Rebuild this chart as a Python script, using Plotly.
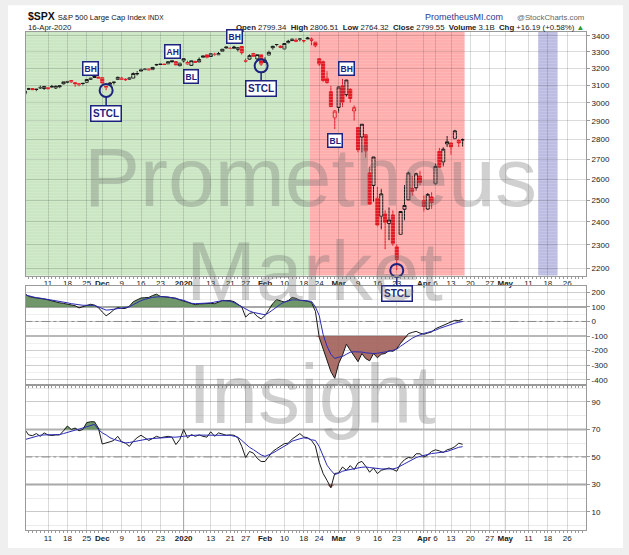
import math
import pandas as pd
import plotly.graph_objects as go

# ---- trading calendar (NYSE holidays removed) ----
holidays = ["2019-11-28", "2019-12-25", "2020-01-01", "2020-01-20",
            "2020-02-17", "2020-04-10", "2020-05-25"]
cal = pd.bdate_range("2019-11-01", "2020-06-05")
cal = cal[~cal.isin(pd.to_datetime(holidays))]
day_idx = {d.strftime("%Y-%m-%d"): i for i, d in enumerate(cal)}

# ---- $SPX daily OHLC, 1-Nov-2019 .. 16-Apr-2020 ----
close_before = 3037.56
opens = [3050.72, 3078.96, 3080.80, 3075.10, 3087.02, 3081.25, 3080.33, 3089.28, 3084.18, 3090.75,
         3107.92, 3117.91, 3127.45, 3114.66, 3108.49, 3111.41, 3117.44, 3134.85, 3145.49, 3147.18,
         3143.85, 3087.41, 3103.50, 3119.21, 3134.62, 3141.86, 3135.36, 3135.75, 3141.23, 3166.65,
         3183.63, 3195.40, 3195.21, 3192.32, 3223.33, 3226.05, 3225.45, 3227.20, 3247.23, 3240.09,
         3215.18,
         3244.67, 3226.36, 3217.55, 3241.86, 3238.59, 3266.03, 3281.81, 3271.13, 3285.35, 3282.27,
         3302.97, 3323.66, 3321.03, 3330.02, 3315.77, 3333.10, 3247.16, 3255.35, 3289.46, 3256.45,
         3282.33,
         3235.66, 3280.61, 3324.91, 3344.92, 3335.54, 3318.28, 3365.87, 3370.50, 3365.90, 3378.08,
         3369.04, 3380.39, 3380.45, 3360.50, 3257.61, 3238.94, 3139.90, 3062.54, 2916.90,
         2974.28, 3096.46, 3045.75, 3075.70, 2954.20, 2863.89, 2813.48, 2825.60, 2630.86, 2569.99,
         2508.59, 2425.66, 2436.50, 2393.48, 2431.94, 2290.71, 2344.44, 2457.77, 2501.29, 2555.87,
         2558.98, 2614.69,
         2498.08, 2458.54, 2514.92, 2578.28, 2738.65, 2685.00, 2776.99, 2782.46, 2805.10, 2795.64,
         2799.34]
highs = [3066.95, 3085.20, 3083.95, 3078.34, 3097.77, 3093.09, 3088.33, 3102.61, 3098.06, 3098.20,
         3120.46, 3124.17, 3127.64, 3118.97, 3110.11, 3112.87, 3133.83, 3142.69, 3154.26, 3150.30,
         3144.31, 3094.97, 3119.38, 3119.45, 3150.60, 3148.87, 3142.12, 3143.98, 3176.28, 3182.68,
         3197.71, 3198.22, 3198.48, 3205.48, 3225.65, 3227.78, 3226.43, 3240.08, 3247.93, 3240.92,
         3231.72,
         3258.14, 3246.15, 3246.84, 3244.91, 3267.07, 3275.58, 3282.99, 3288.13, 3294.25, 3298.66,
         3317.11, 3329.88, 3329.79, 3337.77, 3326.88, 3333.18, 3258.85, 3285.78, 3293.47, 3285.91,
         3282.33,
         3268.44, 3306.92, 3337.58, 3347.96, 3341.42, 3352.26, 3375.63, 3381.47, 3385.09, 3380.69,
         3375.01, 3393.52, 3389.15, 3360.76, 3259.81, 3246.99, 3182.51, 3097.07, 2959.72,
         3090.96, 3136.72, 3130.97, 3083.04, 2985.93, 2863.89, 2882.59, 2825.60, 2660.95, 2711.33,
         2562.98, 2553.93, 2453.57, 2466.97, 2453.01, 2300.73, 2449.71, 2571.42, 2637.01, 2615.91,
         2631.80, 2641.39,
         2522.75, 2533.22, 2538.18, 2676.85, 2756.89, 2760.75, 2818.57, 2782.46, 2851.85, 2801.88,
         2806.51]
lows = [3050.72, 3074.87, 3072.15, 3065.89, 3080.23, 3073.58, 3075.82, 3084.73, 3078.80, 3083.26,
        3104.60, 3112.06, 3113.47, 3091.41, 3094.55, 3099.26, 3117.44, 3131.00, 3143.41, 3139.34,
        3110.78, 3070.33, 3102.53, 3103.76, 3134.62, 3135.46, 3126.09, 3133.21, 3138.47, 3156.51,
        3183.63, 3191.03, 3191.14, 3192.32, 3216.03, 3222.30, 3220.51, 3227.20, 3234.37, 3216.57,
        3212.03,
        3235.53, 3222.34, 3214.64, 3232.43, 3236.67, 3263.67, 3260.86, 3268.43, 3277.19, 3280.69,
        3302.82, 3318.86, 3316.61, 3320.04, 3301.87, 3281.53, 3234.50, 3253.22, 3271.89, 3242.80,
        3214.68,
        3235.66, 3280.61, 3313.75, 3334.39, 3322.12, 3317.77, 3352.72, 3369.72, 3360.52, 3366.15,
        3355.61, 3378.83, 3341.02, 3328.45, 3214.65, 3118.77, 3108.99, 2977.39, 2855.84,
        2945.19, 2976.63, 3034.38, 2999.83, 2901.54, 2734.43, 2734.00, 2707.22, 2478.86, 2492.37,
        2380.94, 2367.04, 2280.52, 2319.78, 2295.56, 2191.86, 2344.44, 2407.53, 2500.72, 2520.02,
        2545.28, 2571.15,
        2447.49, 2455.79, 2459.96, 2574.57, 2657.67, 2663.30, 2762.36, 2721.17, 2805.10, 2761.54,
        2764.32]
closes = [3066.91, 3078.27, 3074.62, 3076.78, 3085.18, 3093.08, 3087.01, 3091.84, 3094.04, 3096.63,
          3120.46, 3122.03, 3120.18, 3108.46, 3103.54, 3110.29, 3133.64, 3140.52, 3153.63, 3140.98,
          3113.87, 3093.20, 3112.76, 3117.43, 3145.91, 3135.96, 3132.52, 3141.63, 3168.57, 3168.80,
          3191.45, 3192.52, 3191.14, 3205.37, 3221.22, 3224.01, 3223.38, 3239.91, 3240.02, 3221.29,
          3230.78,
          3257.85, 3234.85, 3246.28, 3237.18, 3253.05, 3274.70, 3265.35, 3288.13, 3283.15, 3289.29,
          3316.81, 3329.62, 3320.79, 3321.75, 3325.54, 3295.47, 3243.63, 3276.24, 3273.40, 3283.66,
          3225.52,
          3248.92, 3297.59, 3334.69, 3345.78, 3327.71, 3352.09, 3357.75, 3379.45, 3373.94, 3380.16,
          3370.29, 3386.15, 3373.23, 3337.75, 3225.89, 3128.21, 3116.39, 2978.76, 2954.22,
          3090.23, 3003.37, 3130.12, 3023.94, 2972.37, 2746.56, 2882.23, 2741.38, 2480.64, 2711.02,
          2386.13, 2529.19, 2398.10, 2409.39, 2304.92, 2237.40, 2447.33, 2475.56, 2630.07, 2541.47,
          2626.65, 2584.59,
          2470.50, 2526.90, 2488.65, 2663.68, 2659.41, 2749.98, 2789.82, 2761.63, 2846.06, 2783.36,
          2799.55]

# ---- middle panel: CCI and its signal line ----
cci = [191, 172, 165, 162, 160, 154, 148, 140, 133, 128,
       124, 120, 115, 108, 93, 100, 110, 118, 112, 95,
       65, 39, 57, 80, 96, 89, 89, 105, 135, 150,
       161, 163, 165, 178, 187, 172, 168, 165, 163, 160,
       148, 140, 128, 120, 115, 120, 122, 126, 124, 122,
       135, 143, 143, 143, 136, 115, 100, 30, 55, 61,
       35, 17, 40, 80, 122, 150, 140, 133, 143, 165,
       158, 145, 143, 140, 130, 70, -110, -186, -254, -344,
       -390, -290, -231, -156, -197, -240, -276, -220, -255, -270,
       -220, -249, -225, -220, -200, -205, -186, -150, -120, -84,
       -75, -68, -80, -88, -80, -72, -50, -38, -28, -16,
       -5, 8, 6, 14]
cci_sig = [183, 175, 168, 163, 160, 156, 152, 148, 143, 138,
           133, 128, 122, 118, 113, 111, 111, 111, 110, 100,
           88, 78, 80, 84, 88, 90, 95, 100, 115, 130,
           143, 152, 160, 165, 168, 170, 170, 168, 163, 158,
           154, 145, 135, 125, 122, 122, 124, 126, 128, 132,
           138, 143, 141, 139, 130, 115, 100, 85, 72, 62,
           57, 48, 46, 60, 80, 100, 118, 133, 140, 148,
           148, 146, 143, 142, 138, 100, 40, -90, -170, -225,
           -254, -245, -240, -225, -211, -208, -207, -210, -215, -218,
           -220, -218, -215, -211, -205, -198, -190, -170, -150, -130,
           -115, -102, -90, -82, -75, -70, -60, -48, -38, -30,
           -20, -12, -6, 0]

# ---- bottom panel: RSI and its signal line ----
rsi = [70, 66, 65.5, 67, 65, 67.5, 66, 65.6, 66, 66,
       69, 72.5, 70, 71, 69, 70, 75, 75.6, 75.6, 71,
       59.4, 60, 61, 62, 65, 61, 60, 57.7, 61.4, 64,
       65.8, 63.9, 62, 63.4, 65, 64, 64.5, 65, 64.4, 59,
       62.6, 70, 63.9, 66.3, 65, 66, 65, 64.4, 68.3, 65,
       67.5, 66.8, 65.8, 66, 65.8, 63.9, 57.7, 49.6, 54, 52.8,
       49, 46.7, 46.7, 50.4, 54, 56, 58, 59.7, 60, 63,
       65, 67, 64.5, 64, 62, 58, 46, 38, 33, 27.6,
       38, 38.4, 42.7, 40.3, 43.7, 40.8, 45.6, 46.8, 43.2, 38.9,
       42, 37.9, 40.3, 41, 42, 41, 39.6, 45, 48, 49.6,
       49.2, 52.3, 52.3, 49.9, 51.5, 54, 55.2, 54.4, 53.2, 55.2,
       56, 57.5, 60, 59.2]
rsi_sig = [62.6, 63.5, 64.5, 65.3, 65.8, 66, 66, 66.1, 66.2, 66.3,
           67, 68, 68.8, 69.5, 70.2, 71, 72, 73, 73.7, 70,
           67.5, 66, 64, 62.8, 62, 61, 60.2, 60.5, 61, 62,
           62.5, 62.8, 63.2, 63.4, 63.7, 64, 64.3, 64.4, 64.4, 64.4,
           64.5, 65, 65.4, 65.8, 65.8, 65.9, 65.8, 65.7, 65.8, 65.9,
           65.8, 65.8, 65.7, 65.8, 65.3, 64.4, 62, 59.5, 57, 55.3,
           53.5, 51.5, 50.4, 51.5, 52.8, 54.5, 56, 57.7, 59.5, 61.5,
           62.6, 63.2, 63.9, 63.5, 62.5, 62, 57.5, 50, 44, 40.3,
           37.2, 38.2, 39.6, 40.3, 41, 41.5, 42, 42.5, 42.7, 42.3,
           41.8, 41.3, 41.3, 41.3, 41.3, 41.3, 42, 43.5, 45, 46.8,
           48, 49.5, 50.4, 51.2, 52, 52.5, 52.8, 53.2, 53.5, 54,
           55, 56.3, 57, 57.5]

# ---- signals ----
sig_text = ["BH", "AH", "BL", "BH", "AH", "BH", "BL"]
sig_dates = ["2019-11-26", "2019-12-27", "2020-01-06", "2020-01-22",
             "2020-02-19", "2020-03-04", "2020-02-28"]
sig_price = [3200, 3301, 3151, 3394, 3451, 3198, 2796]
stcl_dates = ["2019-12-03", "2020-01-31", "2020-03-23"]

# ---- background bands ----
band_start = ["2019-11-01", "2020-02-20", "2020-05-14"]
band_end = ["2020-02-19", "2020-04-16", "2020-05-20"]
band_fill = ["#c8e5c1", "#ffadad", "#bcbce2"]
band_stripe = ["rgba(235,248,232,0.55)", "rgba(255,205,205,0.5)", "rgba(225,225,245,0.45)"]

# ---- x ticks ----
tick_dates = ["2019-11-11", "2019-11-18", "2019-11-25", "2019-12-02", "2019-12-09", "2019-12-16",
              "2019-12-23", "2020-01-02", "2020-01-13", "2020-01-21", "2020-01-27", "2020-02-03",
              "2020-02-10", "2020-02-18", "2020-02-24", "2020-03-02", "2020-03-09", "2020-03-16",
              "2020-03-23", "2020-04-01", "2020-04-06", "2020-04-13", "2020-04-20", "2020-04-27",
              "2020-05-01", "2020-05-11", "2020-05-18", "2020-05-26"]
tick_text = ["11", "18", "25", "<b>Dec</b>", "9", "16", "23", "<b>2020</b>", "13", "21", "27",
             "<b>Feb</b>", "10", "18", "24", "<b>Mar</b>", "9", "16", "23", "<b>Apr</b>", "6",
             "13", "20", "27", "<b>May</b>", "11", "18", "26"]
month_dates = ["2020-03-02", "2020-04-01", "2020-05-01"]
year_dates = ["2020-01-02"]

W, H = 629, 555
ML, MR, MT, MB = 26, 43, 32, 22


def px(x):
    return (x - ML) / (W - ML - MR)


def py(y):
    return (H - MB - y) / (H - MT - MB)


n = len(closes)
xs = list(range(n))
tickvals = [day_idx[d] for d in tick_dates]
NAVY = "#1c237e"
FONT = "Liberation Sans"

fig = go.Figure()


def add_line(x, y, color, width, dash, xa, ya):
    fig.add_trace(go.Scatter(x=x, y=y, mode="lines", line=dict(color=color, width=width, dash=dash),
                             hoverinfo="skip", showlegend=False, xaxis=xa, yaxis=ya))


# background bands (solid part below gridlines, stripes on top)
shapes = []
for s, e, fc, sc in zip(band_start, band_end, band_fill, band_stripe):
    x0, x1 = day_idx[s] - 0.5, day_idx[e] + 0.5
    shapes.append(dict(type="rect", xref="x", yref="y domain", x0=x0, x1=x1, y0=0, y1=1,
                       fillcolor=fc, line=dict(width=0), layer="below"))
    fig.add_trace(go.Scatter(x=[x0, x0, x1, x1, x0], y=[1000, 9000, 9000, 1000, 1000],
                             mode="lines", fill="toself", fillcolor="rgba(0,0,0,0)",
                             fillpattern=dict(shape="-", fgcolor=sc, bgcolor="rgba(0,0,0,0)",
                                              size=3, solidity=0.4),
                             line=dict(width=0), hoverinfo="skip", showlegend=False,
                             xaxis="x", yaxis="y"))

# darker vertical lines at month / year starts in the indicator panels
panel_span = [("x2", "y2", [-1000, 1000]), ("x3", "y3", [-50, 150])]
for d in month_dates + year_dates:
    col = "#a4a4a4" if d in year_dates else "#cbcbcb"
    for xa, ya, span in panel_span:
        add_line([day_idx[d], day_idx[d]], span, col, 1, "solid", xa, ya)

# candles: black = up vs previous close, red = down; hollow = close above open
prev_close = [close_before] + closes[:-1]
groups = [(True, True, "#111111", "rgba(0,0,0,0)"), (True, False, "#111111", "#111111"),
          (False, True, "#e0141e", "rgba(0,0,0,0)"), (False, False, "#e0141e", "#e0141e")]
for up, hollow, lc, fc in groups:
    keep = [((c >= p) == up) and ((c >= o) == hollow)
            for o, c, p in zip(opens, closes, prev_close)]

    def sel(arr):
        return [v if k else None for v, k in zip(arr, keep)]

    fig.add_trace(go.Candlestick(
        x=xs, open=sel(opens), high=sel(highs), low=sel(lows), close=sel(closes),
        increasing=dict(line=dict(color=lc, width=1), fillcolor=fc),
        decreasing=dict(line=dict(color=lc, width=1), fillcolor=fc),
        whiskerwidth=0, showlegend=False, hoverinfo="skip", xaxis="x", yaxis="y"))

# STCL circles on the lows
stcl_x = [day_idx[d] for d in stcl_dates]
stcl_y = [lows[i] for i in stcl_x]
fig.add_trace(go.Scatter(x=stcl_x, y=stcl_y, mode="markers", cliponaxis=False,
                         marker=dict(symbol="circle-open", size=13, color=NAVY,
                                     line=dict(width=2, color=NAVY)),
                         hoverinfo="skip", showlegend=False, xaxis="x", yaxis="y"))


def band_fill_traces(vals, level, above, color, xa, ya):
    clip = [max(v, level) if above else min(v, level) for v in vals]
    fig.add_trace(go.Scatter(x=xs, y=[level] * n, mode="lines", line=dict(width=0),
                             hoverinfo="skip", showlegend=False, xaxis=xa, yaxis=ya))
    fig.add_trace(go.Scatter(x=xs, y=clip, mode="lines", line=dict(width=0), fill="tonexty",
                             fillcolor=color, hoverinfo="skip", showlegend=False,
                             xaxis=xa, yaxis=ya))


GREEN_FILL = "rgba(95,140,90,0.9)"
BROWN_FILL = "rgba(160,95,88,0.9)"
full_x = [-5, 150]

# reference levels in the indicator panels
cci_levels = [(100, "solid", "#a8a8a8", 2), (-100, "solid", "#b8b8b8", 2), (0, "dashdot", "#8a8a8a", 1)]
rsi_levels = [(70, "solid", "#b0b0b0", 2), (30, "solid", "#a8a8a8", 2), (50, "dashdot", "#8a8a8a", 1)]
for xa, ya, levels in (("x2", "y2", cci_levels), ("x3", "y3", rsi_levels)):
    for lv, dash, col, wd in levels:
        add_line(full_x, [lv, lv], col, wd, dash, xa, ya)

# CCI panel
band_fill_traces(cci, 100, True, GREEN_FILL, "x2", "y2")
band_fill_traces(cci, -100, False, BROWN_FILL, "x2", "y2")
add_line(xs, cci, "#1a1a1a", 1, "solid", "x2", "y2")
add_line(xs, cci_sig, "#2b2bb5", 1, "solid", "x2", "y2")

# RSI panel
band_fill_traces(rsi, 70, True, GREEN_FILL, "x3", "y3")
band_fill_traces(rsi, 30, False, BROWN_FILL, "x3", "y3")
add_line(xs, rsi, "#1a1a1a", 1, "solid", "x3", "y3")
add_line(xs, rsi_sig, "#2b2bb5", 1, "solid", "x3", "y3")

# white card on the grey page
shapes.insert(0, dict(type="rect", xref="paper", yref="paper", x0=px(8), x1=px(623),
                      y0=py(551), y1=py(5), fillcolor="white", line=dict(width=0),
                      layer="below"))

annotations = []
# header
annotations.append(dict(xref="paper", yref="paper", x=px(26), y=py(16), xanchor="left",
                        yanchor="middle", showarrow=False,
                        text="<b>$SPX</b> <span style='font-size:7.6px'>S&P 500 Large Cap Index"
                             "&nbsp;<span style='font-size:6.5px'>INDX</span></span>",
                        font=dict(size=10.5, color="#111111", family=FONT)))
annotations.append(dict(xref="paper", yref="paper", x=px(26), y=py(27), xanchor="left",
                        yanchor="middle", showarrow=False, text="16-Apr-2020",
                        font=dict(size=7.8, color="#222222", family=FONT)))
annotations.append(dict(xref="paper", yref="paper", x=px(586), y=py(27), xanchor="right",
                        yanchor="middle", showarrow=False,
                        text="<b>Open</b> 2799.34&nbsp; <b>High</b> 2806.51&nbsp; <b>Low</b> 2764.32&nbsp; "
                             "<b>Close</b> 2799.55&nbsp; <b>Volume</b> 3.1B&nbsp; <b>Chg</b> +16.19 (+0.58%) "
                             "<span style='color:#2e9a2e'>▲</span>",
                        font=dict(size=7.8, color="#222222", family=FONT)))
annotations.append(dict(xref="paper", yref="paper", x=px(464), y=py(17), xanchor="center",
                        yanchor="middle", showarrow=False, text="PrometheusMI.com",
                        font=dict(size=9, color="#2a3a8c", family=FONT)))
annotations.append(dict(xref="paper", yref="paper", x=px(550), y=py(17), xanchor="center",
                        yanchor="middle", showarrow=False, text="@StockCharts.com",
                        font=dict(size=7.8, color="#666666", family=FONT)))

# signal boxes
for t, d, p in zip(sig_text, sig_dates, sig_price):
    annotations.append(dict(xref="x", yref="y", x=day_idx[d], y=math.log10(p), text="<b>%s</b>" % t,
                            showarrow=False, bgcolor="white", bordercolor=NAVY, borderwidth=1.5,
                            borderpad=1, font=dict(size=8.5, color=NAVY, family=FONT)))
for xi, yv in zip(stcl_x, stcl_y):
    annotations.append(dict(xref="x", yref="y", x=xi, y=math.log10(yv), text="<b>STCL</b>",
                            showarrow=True, ax=0, ay=23, arrowhead=0, arrowwidth=1.5,
                            arrowcolor=NAVY, standoff=6.5, bgcolor="white", bordercolor=NAVY,
                            borderwidth=1.5, borderpad=1.5,
                            font=dict(size=10, color=NAVY, family=FONT)))

# watermark
for word, cx, cy in (("Prometheus", 310, 178), ("Market", 314, 272), ("Insight", 312, 396)):
    annotations.append(dict(xref="paper", yref="paper", x=px(cx), y=py(cy), text=word,
                            showarrow=False, xanchor="center", yanchor="middle",
                            font=dict(size=84, color="rgba(110,110,110,0.32)", family=FONT)))

GRID = "rgba(0,0,0,0.14)"
AXLINE = "#9a9a9a"
xcommon = dict(range=[0.32, 144.84], tickmode="array", tickvals=tickvals, ticktext=tick_text,
               showgrid=True, gridcolor=GRID, gridwidth=1, zeroline=False,
               showline=True, linecolor=AXLINE, mirror=True, ticks="",
               tickfont=dict(size=8, color="#222222", family=FONT),
               minor=dict(ticks="outside", ticklen=2, tickcolor="#9a9a9a", dtick=1, tick0=0,
                          showgrid=False))
ycommon = dict(side="right", showgrid=True, gridcolor=GRID, zeroline=False, showline=True,
               linecolor=AXLINE, mirror=True, ticks="outside", ticklen=3, tickcolor="#9a9a9a",
               tickfont=dict(size=8, color="#222222", family=FONT))

price_ticks = [2200, 2300, 2400, 2500, 2600, 2700, 2800, 2900, 3000, 3100, 3200, 3300, 3400]
cci_ticks = [200, 100, 0, -100, -200, -300, -400]
rsi_ticks = [90, 70, 50, 30, 10]

fig.update_layout(
    width=W, height=H, margin=dict(l=ML, r=MR, t=MT, b=MB),
    paper_bgcolor="#efefef", plot_bgcolor="white", showlegend=False,
    boxgap=0.22, boxgroupgap=0,
    font=dict(family=FONT, size=8, color="#222222"),
    xaxis=dict(xcommon, anchor="y", showticklabels=True, rangeslider=dict(visible=False)),
    xaxis2=dict(xcommon, anchor="y2", matches="x", showticklabels=False),
    xaxis3=dict(xcommon, anchor="y3", matches="x", showticklabels=True),
    yaxis=dict(ycommon, type="log", domain=[py(277), 1],
               range=[math.log10(2171), math.log10(3425)],
               tickmode="array", tickvals=price_ticks, ticktext=[str(v) for v in price_ticks]),
    yaxis2=dict(ycommon, domain=[py(387), py(288)], range=[-435, 240], tickmode="array",
                tickvals=cci_ticks, ticktext=[str(v) for v in cci_ticks],
                minor=dict(dtick=50, tick0=0, showgrid=True, gridcolor="rgba(0,0,0,0.06)")),
    yaxis3=dict(ycommon, domain=[0, py(387)], range=[-3.1, 102.4], tickmode="array",
                tickvals=rsi_ticks, ticktext=[str(v) for v in rsi_ticks],
                minor=dict(dtick=10, tick0=0, showgrid=True, gridcolor="rgba(0,0,0,0.08)")),
    shapes=shapes, annotations=annotations,
)

fig.write_html("out.html", config={"displayModeBar": False},
               post_script="document.body.style.margin='0';document.body.style.overflow='hidden';")
